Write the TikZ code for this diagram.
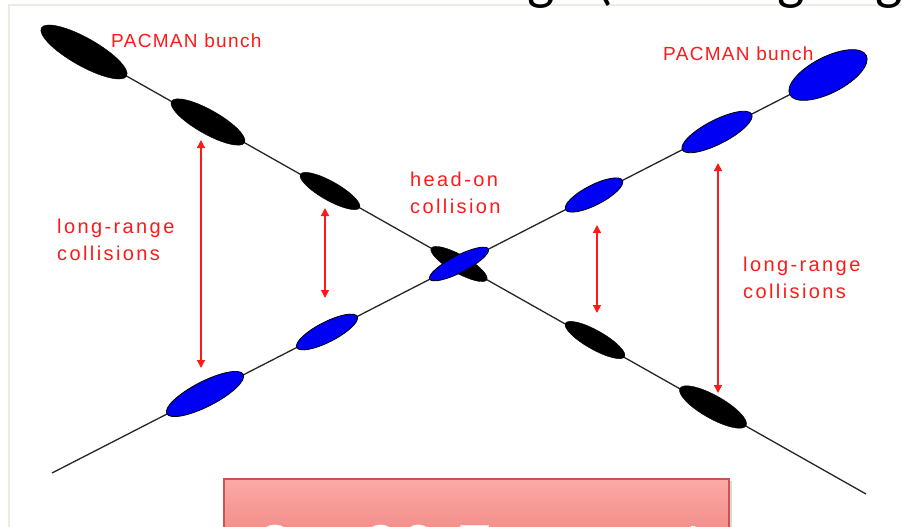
\documentclass[tikz,border=0pt]{standalone}
\usepackage{fontspec}
\setmainfont{Liberation Sans}
\newfontfamily\slidefont{Carlito}
\usetikzlibrary{shapes.geometric,arrows.meta}
\definecolor{framegray}{RGB}{236,236,226}
\definecolor{bunchblue}{RGB}{0,0,245}
\definecolor{labelred}{RGB}{255,25,25}
\definecolor{boxtop}{RGB}{252,170,167}
\definecolor{boxbot}{RGB}{230,108,102}
\definecolor{boxedge}{RGB}{200,85,80}
\begin{document}
\begin{tikzpicture}[x=1pt,y=-1pt,
  beamline/.style={line width=1.3pt, black!85},
  blackbunch/.style={ellipse, fill=black, draw=black, inner sep=0pt, rotate=-29.5},
  bluebunch/.style={ellipse, fill=bunchblue, draw=black, line width=0.8pt, inner sep=0pt, rotate=27.2},
  sepline/.style={draw=labelred, line width=1.4pt, {Triangle[length=8pt,width=8pt]}-{Triangle[length=8pt,width=8pt]}},
  lbl/.style={text=labelred, font=\fontsize{20}{27}\selectfont\addfontfeature{LetterSpace=12}, align=left, inner sep=0pt, anchor=base west},
  pac/.style={text=labelred, font=\fontsize{19}{22}\selectfont\addfontfeature{LetterSpace=7}, inner sep=0pt, anchor=base west},
  titletext/.style={text=black, font=\slidefont\fontsize{58}{60}\selectfont, inner sep=0pt}
]
\useasboundingbox[fill=white] (0,0) rectangle (902,527);

% frame of the slide figure
\draw[framegray, line width=2.5pt] (9,540) -- (9,5) -- (910,5);

% cropped slide title (only descenders visible)
\node[titletext, anchor=base east] (title1) at (527,-1) {Beam-beam effects at lar};
\node[titletext, anchor=base west] (title2) at (527,-1) {ge (crossing angle)};

% line end coordinates
\coordinate (aend) at (866,494);
\coordinate (bend) at (52,473);
\coordinate (a1p) at (84,52);
\coordinate (b6p) at (828,75);

% beam lines
\draw[beamline] (a1p) -- (aend);
\draw[beamline] (bend) -- (b6p);

% black bunches (beam A)
\node[blackbunch, minimum width=98pt, minimum height=28pt] (a1) at (a1p) {};
\node[blackbunch, minimum width=84pt, minimum height=24pt] (a2) at (208,122) {};
\node[blackbunch, minimum width=68pt, minimum height=19pt] (a3) at (330,191) {};
\node[blackbunch, minimum width=64pt, minimum height=18pt] (a4) at (459,264) {};
\node[blackbunch, minimum width=68pt, minimum height=19pt] (a5) at (595,340) {};
\node[blackbunch, minimum width=76pt, minimum height=23pt] (a6) at (713,407) {};

% blue bunches (beam B)
\node[bluebunch, minimum width=86pt, minimum height=25pt] (b1) at (205,394) {};
\node[bluebunch, minimum width=68pt, minimum height=20pt] (b2) at (327,332) {};
\node[bluebunch, minimum width=66pt, minimum height=17pt] (b3) at (459,264) {};
\node[bluebunch, minimum width=64pt, minimum height=20pt] (b4) at (594,195) {};
\node[bluebunch, minimum width=78pt, minimum height=24pt] (b5) at (717,132) {};
\node[bluebunch, minimum width=86pt, minimum height=36pt] (b6) at (b6p) {};

% separation arrows
\coordinate (r1t) at (201,140); \coordinate (r1b) at (201,368);
\coordinate (r2t) at (325,208); \coordinate (r2b) at (325,298);
\coordinate (r3t) at (597,225); \coordinate (r3b) at (597,313);
\coordinate (r4t) at (718,163); \coordinate (r4b) at (718,393);
\draw[sepline] (r1t) -- (r1b);
\draw[sepline] (r2t) -- (r2b);
\draw[sepline] (r3t) -- (r3b);
\draw[sepline] (r4t) -- (r4b);

% labels (base anchor = baseline of the last line)
\node[pac] (pacL) at (111,48) {PACMAN bunch};
\node[pac] (pacR) at (663,60) {PACMAN bunch};
\node[lbl] (lrL) at (57,260) {long-range\\collisions};
\node[lbl] (lrR) at (743,298) {long-range\\collisions};
\node[lbl] (ho) at (410,213) {head-on\\collision};

% red box at bottom (cut off)
\fill[black!15] (226,481) rectangle (732,600);
\node[draw=boxedge, line width=1.5pt, top color=boxtop, bottom color=boxbot,
      minimum width=505pt, minimum height=115pt, anchor=north west, inner sep=0pt] (box) at (223,478) {};
\begin{scope}
  \clip (box.north west) rectangle (box.south east);
  \node[text=white, font=\slidefont\fontsize{76}{80}\selectfont, anchor=base west, inner sep=0pt] (boxtext) at (255,574) {2 x 30 Encounters};
\end{scope}
\end{tikzpicture}
\end{document}
